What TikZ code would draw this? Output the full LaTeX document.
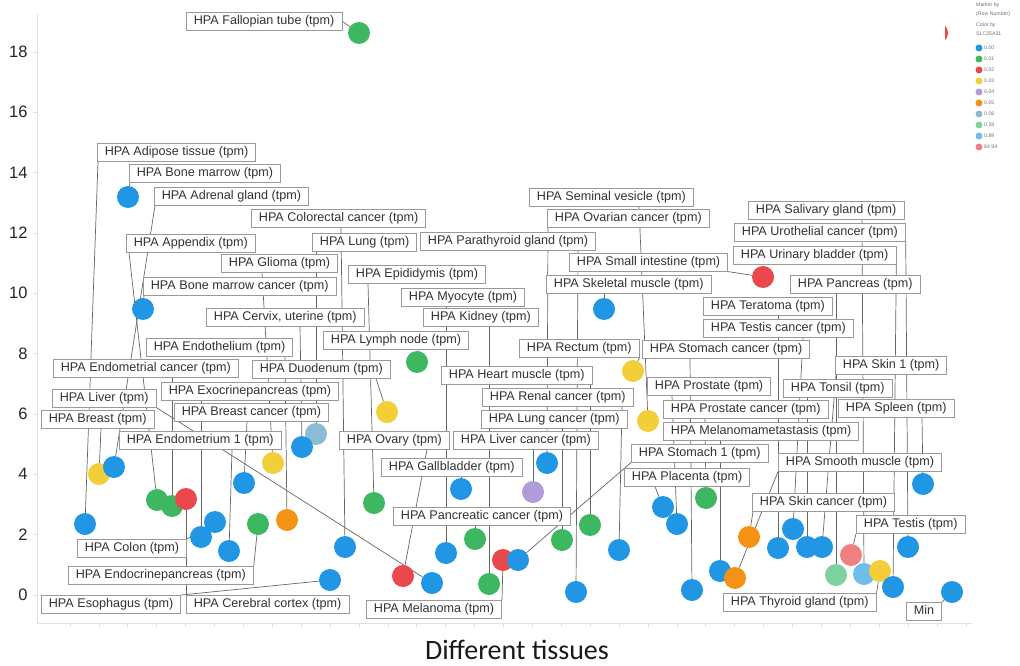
\documentclass[tikz,border=0pt]{standalone}
\usepackage{fontspec}
\setmainfont{Liberation Sans}
\newfontfamily\titlefont{Carlito}
\usetikzlibrary{backgrounds}
\definecolor{cBlue}{RGB}{33,150,229}
\definecolor{cGreen}{RGB}{61,184,96}
\definecolor{cRed}{RGB}{234,72,77}
\definecolor{cYellow}{RGB}{242,206,56}
\definecolor{cPurple}{RGB}{177,156,217}
\definecolor{cOrange}{RGB}{244,146,22}
\definecolor{cSteel}{RGB}{140,188,212}
\definecolor{cLgreen}{RGB}{125,210,160}
\definecolor{cLblue}{RGB}{110,190,236}
\definecolor{cPink}{RGB}{238,128,128}
\tikzset{
  tlabel/.style={draw=black!40, fill=white, line width=0.8pt, text=black!80,
    font=\fontsize{12.6}{14}\selectfont, inner xsep=7.5pt, inner ysep=3pt,
    text height=9.2pt, text depth=2.6pt, anchor=north west},
  dot/.style={circle, inner sep=0pt, minimum size=22pt, fill=#1},
  leader/.style={draw=black!60, line width=0.7pt},
  axisline/.style={draw=black!12, line width=0.8pt},
  ticklbl/.style={anchor=east, text=black!85, font=\fontsize{16.5}{18}\selectfont},
  legtxt/.style={anchor=west, text=black!55, font=\fontsize{5.2}{6}\selectfont, inner sep=0pt},
}
\newcommand{\leadto}[3]{\draw[leader] ([xshift=#2pt]#1.south west) -- (#3);}

\begin{document}
\begin{tikzpicture}[x=1pt,y=-1pt]
  \useasboundingbox (0,0) rectangle (1020,666);
  % axes
  \draw[axisline] (37,14) -- (37,623) -- (972,623);
  \foreach \v in {0,2,...,18}{
    \draw[axisline] (33,{595-30.17*\v}) -- (37,{595-30.17*\v});
    \node[ticklbl] at (31,{595-30.17*\v}) {\v};
  }
  \foreach \k in {0,...,31}
    \draw[axisline] ({70+28.9*\k},623) -- ({70+28.9*\k},627);
  \node[font=\titlefont\fontsize{28}{30}\selectfont, text=black!90] (xtitle) at (517,650) {Different tissues};

  % labels
  \node[tlabel] (fallopian) at (186,12) {HPA Fallopian tube (tpm)};
  \node[tlabel] (adipose) at (97,143) {HPA Adipose tissue (tpm)};
  \node[tlabel] (bonemarrow) at (129,164) {HPA Bone marrow (tpm)};
  \node[tlabel] (adrenal) at (154,187) {HPA Adrenal gland (tpm)};
  \node[tlabel] (colorectal) at (251,209) {HPA Colorectal cancer (tpm)};
  \node[tlabel] (appendix) at (126,234) {HPA Appendix (tpm)};
  \node[tlabel] (lung) at (312,233) {HPA Lung (tpm)};
  \node[tlabel] (parathyroid) at (420,232) {HPA Parathyroid gland (tpm)};
  \node[tlabel] (glioma) at (221,254) {HPA Glioma (tpm)};
  \node[tlabel] (epididymis) at (348,265) {HPA Epididymis (tpm)};
  \node[tlabel] (bmcancer) at (143,277) {HPA Bone marrow cancer (tpm)};
  \node[tlabel] (myocyte) at (401,288) {HPA Myocyte (tpm)};
  \node[tlabel] (kidney) at (423,308) {HPA Kidney (tpm)};
  \node[tlabel] (cervix) at (206,308) {HPA Cervix, uterine (tpm)};
  \node[tlabel] (lymphnode) at (323,331) {HPA Lymph node (tpm)};
  \node[tlabel] (endothelium) at (146,338) {HPA Endothelium (tpm)};
  \node[tlabel] (duodenum) at (252,360) {HPA Duodenum (tpm)};
  \node[tlabel] (endometrialc) at (53,359) {HPA Endometrial cancer (tpm)};
  \node[tlabel] (exocrine) at (161,382) {HPA Exocrinepancreas (tpm)};
  \node[tlabel] (liver) at (52,389) {HPA Liver (tpm)};
  \node[tlabel] (breast) at (41,410) {HPA Breast (tpm)};
  \node[tlabel] (breastc) at (174,403) {HPA Breast cancer (tpm)};
  \node[tlabel] (endometrium) at (119,431) {HPA Endometrium 1 (tpm)};
  \node[tlabel] (heart) at (441,366) {HPA Heart muscle (tpm)};
  \node[tlabel] (rectum) at (519,339) {HPA Rectum (tpm)};
  \node[tlabel] (renalc) at (482,388) {HPA Renal cancer (tpm)};
  \node[tlabel] (lungc) at (481,410) {HPA Lung cancer (tpm)};
  \node[tlabel] (ovary) at (339,431) {HPA Ovary (tpm)};
  \node[tlabel] (liverc) at (453,431) {HPA Liver cancer (tpm)};
  \node[tlabel] (gallbladder) at (381,458) {HPA Gallbladder (tpm)};
  \node[tlabel] (pancreaticc) at (393,507) {HPA Pancreatic cancer (tpm)};
  \node[tlabel] (melanoma) at (366,600) {HPA Melanoma (tpm)};
  \node[tlabel] (colon) at (77,539) {HPA Colon (tpm)};
  \node[tlabel] (endocrine) at (68,566) {HPA Endocrinepancreas (tpm)};
  \node[tlabel] (esophagus) at (41,595) {HPA Esophagus (tpm)};
  \node[tlabel] (cerebral) at (186,595) {HPA Cerebral cortex (tpm)};
  \node[tlabel] (seminal) at (529,188) {HPA Seminal vesicle (tpm)};
  \node[tlabel] (ovarianc) at (547,209) {HPA Ovarian cancer (tpm)};
  \node[tlabel] (smallint) at (569,253) {HPA Small intestine (tpm)};
  \node[tlabel] (skeletal) at (546,275) {HPA Skeletal muscle (tpm)};
  \node[tlabel] (salivary) at (748,201) {HPA Salivary gland (tpm)};
  \node[tlabel] (urothelial) at (734,223) {HPA Urothelial cancer (tpm)};
  \node[tlabel] (urinary) at (733,246) {HPA Urinary bladder (tpm)};
  \node[tlabel] (pancreas) at (790,275) {HPA Pancreas (tpm)};
  \node[tlabel] (teratoma) at (703,297) {HPA Teratoma (tpm)};
  \node[tlabel] (testisc) at (703,319) {HPA Testis cancer (tpm)};
  \node[tlabel] (stomachc) at (642,340) {HPA Stomach cancer (tpm)};
  \node[tlabel] (skin) at (835,356) {HPA Skin 1 (tpm)};
  \node[tlabel] (prostate) at (647,377) {HPA Prostate (tpm)};
  \node[tlabel] (tonsil) at (783,379) {HPA Tonsil (tpm)};
  \node[tlabel] (prostatec) at (663,400) {HPA Prostate cancer (tpm)};
  \node[tlabel] (spleen) at (838,399) {HPA Spleen (tpm)};
  \node[tlabel] (melmeta) at (663,422) {HPA Melanomametastasis (tpm)};
  \node[tlabel] (stomach) at (631,444) {HPA Stomach 1 (tpm)};
  \node[tlabel] (placenta) at (624,468) {HPA Placenta (tpm)};
  \node[tlabel] (smooth) at (778,453) {HPA Smooth muscle (tpm)};
  \node[tlabel] (skinc) at (752,493) {HPA Skin cancer (tpm)};
  \node[tlabel] (testis) at (856,515) {HPA Testis (tpm)};
  \node[tlabel] (thyroid) at (723,593) {HPA Thyroid gland (tpm)};
  \node[tlabel] (min) at (906,602) {Min};

  % markers
  \foreach \c/\x/\y [count=\i] in {
    cGreen/359/33, cBlue/128/197, cBlue/143/309, cBlue/604/309, cRed/763/277,
    cGreen/417/362, cYellow/387/412, cYellow/633/371, cYellow/648/421, cSteel/316/434,
    cBlue/302/447, cYellow/99/474, cBlue/114/467, cYellow/273/463, cBlue/244/483,
    cGreen/157/500, cGreen/172/506, cRed/186/499, cBlue/85/524, cBlue/215/522,
    cBlue/201/537, cBlue/229/551, cGreen/258/524, cOrange/287/520, cBlue/330/580,
    cBlue/345/547, cGreen/374/503, cBlue/461/489, cBlue/547/463, cPurple/533/492,
    cBlue/446/553, cGreen/475/539, cRed/403/576, cBlue/432/583, cGreen/489/584,
    cRed/503/560, cBlue/518/560, cGreen/562/540, cGreen/590/525, cBlue/576/592,
    cBlue/619/550, cBlue/663/507, cBlue/677/524, cGreen/706/498, cBlue/692/590,
    cBlue/720/571, cOrange/735/578, cOrange/749/537, cBlue/778/548, cBlue/793/529,
    cBlue/807/547, cBlue/822/547, cLgreen/836/575, cPink/851/555, cLblue/864/574,
    cYellow/880/571, cBlue/893/587, cBlue/908/547, cBlue/923/484, cBlue/952/592}
    \node[dot=\c] (m\i) at (\x,\y) {};
  % off-scale marker at the right edge
  \begin{scope}
    \clip (945,15) rectangle (955,50);
    \fill[cRed] (937,33) circle[radius=11pt];
  \end{scope}

  % leader lines
  \begin{pgfonlayer}{background}
    \draw[leader] (fallopian.east) -- (m1);
    \leadto{adipose}{1}{m19}
    \leadto{bonemarrow}{1}{m2}
    \leadto{adrenal}{1}{m13}
    \leadto{colorectal}{90}{m26}
    \leadto{appendix}{3}{m16}
    \leadto{lung}{4}{m10}
    \leadto{parathyroid}{158}{m40}
    \leadto{glioma}{41}{m14}
    \leadto{epididymis}{20}{m27}
    \leadto{bmcancer}{1}{m3}
    \leadto{myocyte}{45}{m31}
    \leadto{kidney}{66}{m35}
    \leadto{cervix}{94}{m11}
    \leadto{lymphnode}{96}{m6}
    \leadto{endothelium}{139}{m24}
    \leadto{duodenum}{124}{m7}
    \leadto{endometrialc}{119}{m17}
    \leadto{exocrine}{40}{m21}
    \draw[leader] (liver.south east) -- (m34);
    \leadto{breast}{60}{m12}
    \leadto{breastc}{73}{m15}
    \leadto{endometrium}{113}{m22}
    \leadto{heart}{149}{m39}
    \draw[leader] (rectum.south east) -- (m8);
    \leadto{renalc}{140}{m41}
    \leadto{lungc}{81}{m38}
    \leadto{ovary}{88}{m33}
    \leadto{liverc}{80}{m30}
    \leadto{gallbladder}{80}{m28}
    \leadto{pancreaticc}{82}{m32}
    \draw[leader] (melanoma.north east) -- (m36);
    \draw[leader] (colon.north east) -- (m20);
    \draw[leader] (endocrine.north east) -- (m23);
    \draw[leader] (esophagus.north east) -- (m25);
    \draw[leader] (cerebral.north west) -- (m18);
    \leadto{seminal}{110}{m9}
    \leadto{ovarianc}{1}{m29}
    \draw[leader] (smallint.south east) -- (m5);
    \leadto{skeletal}{58}{m4}
    \leadto{salivary}{114}{m55}
    \draw[leader] (urothelial.south east) -- (m58);
    \draw[leader] (urinary.south east) -- (m57);
    \leadto{pancreas}{46}{m53}
    \leadto{teratoma}{75}{m49}
    \leadto{testisc}{100}{m50}
    \leadto{stomachc}{48}{m45}
    \leadto{skin}{1}{m52}
    \leadto{prostate}{25}{m43}
    \leadto{tonsil}{24}{m51}
    \leadto{prostatec}{42}{m44}
    \leadto{spleen}{84}{m59}
    \leadto{melmeta}{57}{m46}
    \draw[leader] (stomach.south west) -- (m37);
    \leadto{placenta}{31}{m42}
    \draw[leader] (smooth.south west) -- (m47);
    \leadto{skinc}{1}{m48}
    \draw[leader] (testis.south west) -- (m54);
    \draw[leader] (thyroid.north east) -- (m56);
    \draw[leader] (min.north east) -- (m60);
  \end{pgfonlayer}

  % legend
  \node[legtxt] (legmarker) at (976,5) {Marker by};
  \node[legtxt] (legrow) at (976,14) {(Row Number)};
  \node[legtxt] (legcolor) at (976,25) {Color by};
  \node[legtxt] (leggene) at (976,34) {SLC25A31};
  \foreach \c/\t [count=\i] in {cBlue/0.00, cGreen/0.01, cRed/0.02, cYellow/0.03,
      cPurple/0.04, cOrange/0.05, cSteel/0.06, cLgreen/0.28, cLblue/0.89, cPink/84.94}{
    \node[dot=\c, minimum size=7pt] (leg\i) at (979,{37+11*\i}) {};
    \node[legtxt] at (984,{37+11*\i}) {\t};
  }
\end{tikzpicture}
\end{document}
